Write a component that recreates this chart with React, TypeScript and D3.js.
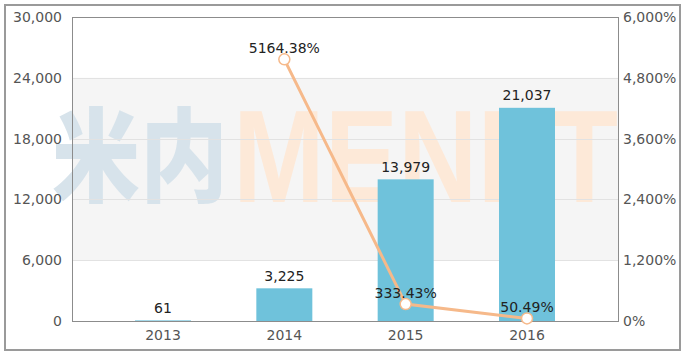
import React from "react";
import * as d3 from "d3";

const categories = ["2013", "2014", "2015", "2016"];
const barValues = [61, 3225, 13979, 21037];
const growthValues: (number | null)[] = [null, 5164.38, 333.43, 50.49];
const leftTicks = [0, 6000, 12000, 18000, 24000, 30000];
const rightTicks = [0, 1200, 2400, 3600, 4800, 6000];

const W = 688;
const H = 356;
const plot = { left: 72, right: 618, top: 17, bottom: 321 };
const font = "'DejaVu Sans', Verdana, sans-serif";

export default function App() {
  const x = d3.scaleLinear().domain([-0.75, 3.75]).range([plot.left, plot.right]);
  const yL = d3.scaleLinear().domain([0, 30000]).range([plot.bottom, plot.top]);
  const yR = d3.scaleLinear().domain([0, 6000]).range([plot.bottom, plot.top]);
  const fmt = d3.format(",");
  const barW = 56;

  const linePts = growthValues
    .map((v, i) => (v == null ? null : ([x(i), yR(v)] as [number, number])))
    .filter((p): p is [number, number] => p != null);
  const linePath = d3.line()(linePts) || "";

  return (
    <svg
      width={W}
      height={H}
      style={{ position: "absolute", left: 0, top: 0, background: "#fff" }}
      fontFamily={font}
    >
      <rect x={0} y={0} width={W} height={H} fill="#fff" />
      <rect x={5} y={5} width={675} height={345} fill="none" stroke="#9a9a9a" strokeWidth={2} />
      {/* plot band */}
      <rect
        x={plot.left}
        y={yL(24000)}
        width={plot.right - plot.left}
        height={yL(6000) - yL(24000)}
        fill="#f5f5f5"
      />
      {/* watermark */}
      <text
        x={52}
        y={194}
        fontFamily="'Noto Sans CJK SC', sans-serif"
        fontWeight={900}
        fontSize={102}
        fill="#d7e3eb"
        textLength={176}
        lengthAdjust="spacingAndGlyphs"
      >
        米内
      </text>
      <text
        x={233}
        y={202}
        fontFamily="'Liberation Sans', Arial, sans-serif"
        fontWeight={700}
        fontSize={131}
        fill="#fde9d8"
        textLength={385}
        lengthAdjust="spacingAndGlyphs"
      >
        MENET
      </text>
      {/* gridlines */}
      {leftTicks.map((t) => (
        <line
          key={t}
          x1={plot.left}
          x2={plot.right}
          y1={Math.round(yL(t)) + 0.5}
          y2={Math.round(yL(t)) + 0.5}
          stroke="#e2e2e2"
        />
      ))}
      {/* bars */}
      {barValues.map((v, i) => (
        <rect
          key={i}
          x={x(i) - barW / 2}
          y={yL(v)}
          width={barW}
          height={plot.bottom - yL(v)}
          fill="#6fc2db"
        />
      ))}
      {/* plot frame */}
      <rect
        x={plot.left + 0.5}
        y={plot.top + 0.5}
        width={plot.right - plot.left}
        height={plot.bottom - plot.top}
        fill="none"
        stroke="#8c8c8c"
      />
      {/* line */}
      <path d={linePath} fill="none" stroke="#f6b98a" strokeWidth={3} />
      {linePts.map((p, i) => (
        <circle key={i} cx={p[0]} cy={p[1]} r={5.5} fill="#fff" stroke="#f6b98a" strokeWidth={1.5} />
      ))}
      {/* bar labels */}
      {barValues.map((v, i) => (
        <text key={i} x={x(i)} y={yL(v) - 7.5} textAnchor="middle" fontSize={14} fill="#222">
          {fmt(v)}
        </text>
      ))}
      {/* line labels */}
      {growthValues.map((v, i) =>
        v == null ? null : (
          <text key={i} x={x(i)} y={yR(v) - 6.5} textAnchor="middle" fontSize={14} fill="#222">
            {v.toFixed(2) + "%"}
          </text>
        )
      )}
      {/* left axis */}
      {leftTicks.map((t) => (
        <text key={t} x={62} y={yL(t)} dy="0.36em" textAnchor="end" fontSize={14} fill="#555">
          {fmt(t)}
        </text>
      ))}
      {/* right axis */}
      {rightTicks.map((t) => (
        <text key={t} x={623} y={yR(t)} dy="0.36em" textAnchor="start" fontSize={14} fill="#555">
          {fmt(t) + "%"}
        </text>
      ))}
      {/* x axis */}
      {categories.map((c, i) => (
        <text key={c} x={x(i)} y={340} textAnchor="middle" fontSize={14} fill="#555">
          {c}
        </text>
      ))}
    </svg>
  );
}
